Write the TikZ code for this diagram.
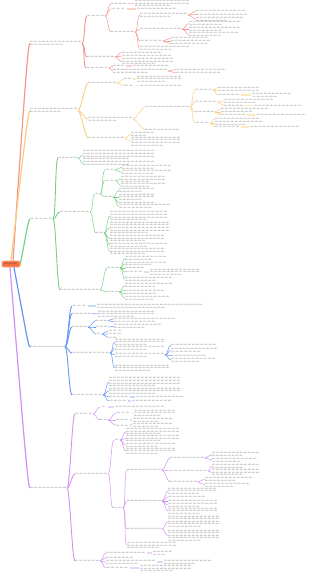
\documentclass[tikz,border=0pt]{standalone}
\usepackage{fontspec}
\setmainfont{Liberation Sans}
\usetikzlibrary{calc}
\definecolor{Rc}{RGB}{246,150,140}\definecolor{Rh}{RGB}{252,210,205}
\definecolor{Oc}{RGB}{250,205,130}\definecolor{Oh}{RGB}{253,232,190}
\definecolor{Gc}{RGB}{118,210,132}\definecolor{Gh}{RGB}{205,240,210}
\definecolor{Bc}{RGB}{100,150,245}\definecolor{Bh}{RGB}{200,218,252}
\definecolor{Pc}{RGB}{210,145,245}\definecolor{Ph}{RGB}{236,210,252}
\definecolor{rootfill}{RGB}{246,112,62}\definecolor{rootedge}{RGB}{251,176,140}
\newcommand\fillline[1]{\hbox to #1pt{\xleaders\hbox{abc\kern.5pt}\hfil}}
\tikzset{
  blk/.style={anchor=west,inner sep=0pt,outer sep=0pt},
  tl/.style={anchor=west,inner sep=0pt,outer sep=0pt,font=\fontsize{2.1pt}{2.6pt}\selectfont,text=black!45},
  l1/.style={line width=1.2pt,line cap=round},
  rootbox/.style={fill=rootfill,draw=rootedge,line width=0.8pt,rounded corners=1pt,minimum width=18pt,minimum height=6pt,inner sep=0pt,font=\fontsize{2.2pt}{2.6pt}\selectfont,text=black!70}
}
\newcommand\tb[5]{%
  \node[blk,minimum width=#4pt,minimum height=#5*2.6pt] (#1) at (#2,#3) {};
  \foreach \li in {1,...,#5}{%
    \pgfmathsetmacro\lw{(\li==#5 && #5>1) ? 0.65*#4 : #4}%
    \node[tl] at ($(#1.north west)+(0,{(\li-0.5)*2.6})$) {\fillline{\lw}};
  }}
\newcommand\br[4][0.5]{\foreach \chn in {#4}{\draw[line width=#1pt,#2] (#3.east) .. controls +(3,0) and +(-3,0) .. (\chn.west);}}
\newcommand\hl[3]{\draw[line width=1.8pt,#1] ($(#2.east)+(1,0)$) -- ($(#2.east -| #3.west)+(-1,0)$);}
\begin{document}
\begin{tikzpicture}[x=1pt,y=-1pt]
\useasboundingbox[fill=white] (0,0) rectangle (310,573);
\node[rootbox] (root) at (11,264) {\fillline{13}};
% ---------------- RED
\tb{R1}{30}{43.5}{52}{2}
\tb{R1a}{87}{16}{18}{1}
\tb{R1b}{87}{57}{28}{1}
\tb{R1c}{86}{68}{23}{1}
\tb{R1a1}{111}{3.5}{16}{1}
\tb{R1a2}{111}{8.8}{15}{1}
\tb{R1a3}{111}{32}{24}{1}
\tb{R1a1x}{135}{3.5}{55}{3}
\tb{R1a2x}{137}{8.8}{40}{1}
\tb{R1a3a}{140}{15}{48}{2}
\tb{R1a3b}{140}{29}{42}{1}
\tb{R1a3c}{140}{41}{23}{1}
\tb{R1a3d}{140}{48.5}{50}{2}
\tb{R1a3a1}{196}{11}{50}{1}
\tb{R1a3a2}{196}{14.5}{52}{1}
\tb{R1a3a3}{196}{19}{48}{2}
\tb{R1a3b1}{189}{23.5}{52}{2}
\tb{R1a3b2}{189}{29}{52}{2}
\tb{R1a3b3}{189}{34.5}{50}{2}
\tb{R1a3c1}{171}{38}{38}{1}
\tb{R1a3c2}{171}{41}{40}{1}
\tb{R1a3c3}{171}{44}{38}{1}
\tb{R1b1}{122}{52.5}{40}{1}
\tb{R1b2}{122}{56}{50}{1}
\tb{R1b3}{122}{61.5}{52}{3}
\tb{R1c1}{113}{66}{12}{1}
\tb{R1c1x}{133}{66}{36}{1}
\tb{R1c2}{113}{71}{55}{2}
\tb{R1c2a}{176}{69.5}{50}{1}
\tb{R1c2b}{176}{73}{45}{1}
\draw[l1,Rc] ([xshift=2pt]root.north) .. controls ($(R1.west)+(-3,10)$) and ($(R1.west)+(-1.5,0)$) .. (R1.west);
\br[0.9]{Rc}{R1}{R1a,R1b,R1c}
\br{Rc}{R1a}{R1a1,R1a2,R1a3}
\br{Rc}{R1a3}{R1a3a,R1a3b,R1a3c,R1a3d}
\br{Rc}{R1a3a}{R1a3a1,R1a3a2,R1a3a3}
\br{Rc}{R1a3b}{R1a3b1,R1a3b2,R1a3b3}
\br{Rc}{R1a3c}{R1a3c1,R1a3c2,R1a3c3}
\br{Rc}{R1b}{R1b1,R1b2,R1b3}
\br{Rc}{R1c}{R1c1,R1c2}
\br{Rc}{R1c2}{R1c2a,R1c2b}
\hl{Rh}{R1a1}{R1a1x}
\hl{Rh}{R1a2}{R1a2x}
\hl{Rh}{R1c1}{R1c1x}
% ---------------- ORANGE
\tb{O1}{30}{110.5}{48}{2}
\tb{O1a}{88}{83}{29}{1}
\tb{O1b}{88}{119}{45}{2}
\tb{O1c}{88}{138}{37}{1}
\tb{O1a1}{124}{79}{8}{1}
\tb{O1a1x}{137}{79}{45}{3}
\tb{O1a2}{124}{85.5}{10}{1}
\tb{O1a2x}{140}{85.5}{42}{1}
\tb{O1b1}{145}{107}{45}{1}
\tb{O1b2}{145}{130}{35}{1}
\tb{O1b1a}{195}{90}{18}{1}
\tb{O1b1b}{195}{102}{22}{1}
\tb{O1b1c}{195}{112}{20}{1}
\tb{O1b1d}{195}{123}{15}{1}
\tb{O1b1a1}{218}{87.5}{42}{1}
\tb{O1b1a2}{218}{91}{42}{1}
\tb{O1b1a3}{218}{95}{22}{1}
\tb{O1b1a3x}{252}{95}{40}{2}
\tb{O1b1b1}{224}{101}{50}{2}
\tb{O1b1b2}{224}{105.5}{20}{1}
\tb{O1b1b2x}{254}{105.5}{48}{1}
\tb{O1b1c1}{221}{109}{48}{1}
\tb{O1b1c2}{221}{112}{32}{1}
\tb{O1b1c3}{221}{115}{25}{1}
\tb{O1b1c3x}{256}{115}{50}{1}
\tb{O1b1d1}{215}{119}{45}{1}
\tb{O1b1d2}{215}{123}{48}{2}
\tb{O1b1d3}{215}{127}{25}{1}
\tb{O1b1d3x}{250}{127}{50}{1}
\tb{O1c1}{131}{134}{24}{2}
\tb{O1c2}{131}{141.5}{50}{4}
\draw[l1,Oc] (root.north) .. controls ($(O1.west)+(-3,10)$) and ($(O1.west)+(-1.5,0)$) .. (O1.west);
\br[0.9]{Oc}{O1}{O1a,O1b,O1c}
\br{Oc}{O1a}{O1a1,O1a2}
\br{Oc}{O1b}{O1b1,O1b2}
\br{Oc}{O1b1}{O1b1a,O1b1b,O1b1c,O1b1d}
\br{Oc}{O1b1a}{O1b1a1,O1b1a2,O1b1a3}
\br{Oc}{O1b1b}{O1b1b1,O1b1b2}
\br{Oc}{O1b1c}{O1b1c1,O1b1c2,O1b1c3}
\br{Oc}{O1b1d}{O1b1d1,O1b1d2,O1b1d3}
\br{Oc}{O1c}{O1c1,O1c2}
\hl{Oh}{O1a1}{O1a1x}
\hl{Oh}{O1a2}{O1a2x}
\hl{Oh}{O1b1a3}{O1b1a3x}
\hl{Oh}{O1b1b2}{O1b1b2x}
\hl{Oh}{O1b1c3}{O1b1c3x}
\hl{Oh}{O1b1d3}{O1b1d3x}
% ---------------- GREEN
\tb{G1}{30}{219}{23}{1}
\tb{G1a}{58}{158}{20}{1}
\tb{G1b}{60}{212}{30}{1}
\tb{G1c}{60}{290}{40}{1}
\tb{G1a1}{83}{155}{72}{4}
\tb{G1a2}{83}{163.5}{72}{2}
\tb{G1b1}{95}{194}{5}{1}
\tb{G1b2}{96}{233}{8}{1}
\tb{G1b1a}{105}{170}{10}{1}
\tb{G1b1b}{105}{180.5}{10}{1}
\tb{G1b1c}{105}{197}{8}{1}
\tb{G1b1a1}{122}{167}{50}{2}
\tb{G1b1a2}{122}{172.5}{50}{2}
\tb{G1b1b1}{121}{179.5}{45}{3}
\tb{G1b1b2}{121}{185.5}{45}{2}
\tb{G1b1c1}{119}{190.3}{36}{2}
\tb{G1b1c2}{119}{197}{36}{3}
\tb{G1b1c3}{119}{202.5}{36}{1}
\tb{G1b1c4}{119}{206.5}{52}{2}
\tb{G1b2a}{110}{216}{58}{4}
\tb{G1b2b}{110}{227.8}{60}{5}
\tb{G1b2c}{110}{238.5}{55}{3}
\tb{G1b2d}{110}{245}{58}{2}
\tb{G1b2e}{110}{251.5}{55}{3}
\tb{G1c1}{107}{268}{13}{1}
\tb{G1c2}{107}{292}{12}{1}
\tb{G1c1a}{125}{258.5}{42}{2}
\tb{G1c1b}{125}{263.8}{42}{2}
\tb{G1c1c}{125}{268}{20}{1}
\tb{G1c1d}{125}{272}{18}{1}
\tb{G1c1dx}{150}{272}{50}{3}
\tb{G1c1e}{125}{279}{48}{2}
\tb{G1c2a}{125}{285.5}{48}{2}
\tb{G1c2b}{125}{290.5}{40}{1}
\tb{G1c2c}{125}{294}{32}{1}
\tb{G1c2d}{125}{298.5}{45}{2}
\draw[l1,Gc] (root.east) .. controls ($(G1.west)+(-3,10)$) and ($(G1.west)+(-1.5,0)$) .. (G1.west);
\br[0.9]{Gc}{G1}{G1a,G1b,G1c}
\br{Gc}{G1a}{G1a1,G1a2}
\br{Gc}{G1b}{G1b1,G1b2}
\br{Gc}{G1b1}{G1b1a,G1b1b,G1b1c}
\br{Gc}{G1b1a}{G1b1a1,G1b1a2}
\br{Gc}{G1b1b}{G1b1b1,G1b1b2}
\br{Gc}{G1b1c}{G1b1c1,G1b1c2,G1b1c3,G1b1c4}
\br{Gc}{G1b2}{G1b2a,G1b2b,G1b2c,G1b2d,G1b2e}
\br{Gc}{G1c}{G1c1,G1c2}
\br{Gc}{G1c1}{G1c1a,G1c1b,G1c1c,G1c1d,G1c1e}
\br{Gc}{G1c2}{G1c2a,G1c2b,G1c2c,G1c2d}
\hl{Gh}{G1c1d}{G1c1dx}
% ---------------- BLUE
\tb{B1}{30}{347}{35}{1}
\tb{B1a}{72}{306}{15}{1}
\tb{B1ax}{97}{306.5}{106}{2}
\tb{B1b}{72}{313.5}{20}{1}
\tb{B1bx}{98}{314}{57}{3}
\tb{B1c}{72}{327}{16}{1}
\tb{B1d}{72}{353}{38}{1}
\tb{B1e}{72}{395}{31}{1}
\tb{B1c1}{96}{320.5}{12}{1}
\tb{B1c2}{96}{327}{12}{1}
\tb{B1c3}{96}{334}{6}{1}
\tb{B1c1a}{114}{318.8}{62}{1}
\tb{B1c1b}{114}{322}{42}{1}
\tb{B1c2a}{114}{326.5}{48}{2}
\tb{B1c3a}{108}{331}{15}{1}
\tb{B1c3b}{108}{334.2}{14}{1}
\tb{B1c3c}{108}{337.4}{10}{1}
\tb{B1da}{115}{342}{50}{3}
\tb{B1db}{115}{348.5}{50}{2}
\tb{B1dc}{115}{355}{50}{2}
\tb{B1dd}{115}{368}{55}{3}
\tb{B1dc1}{171}{345}{46}{1}
\tb{B1dc2}{171}{350.5}{47}{2}
\tb{B1dc3}{171}{355.5}{35}{1}
\tb{B1dc4}{171}{360}{45}{2}
\tb{B1ea}{109}{382}{72}{4}
\tb{B1eb}{109}{391}{72}{3}
\tb{B1ec}{109}{397}{20}{1}
\tb{B1ecx}{136}{397}{48}{1}
\tb{B1ed}{109}{401}{18}{1}
\tb{B1edx}{132}{401}{40}{1}
\draw[l1,Bc] ([xshift=3pt]root.south) .. controls ($(B1.west)+(-3,-10)$) and ($(B1.west)+(-1.5,0)$) .. (B1.west);
\br[0.9]{Bc}{B1}{B1a,B1b,B1c,B1d,B1e}
\br{Bc}{B1b}{B1bx}
\br{Bc}{B1c}{B1c1,B1c2,B1c3}
\br{Bc}{B1c1}{B1c1a,B1c1b}
\br{Bc}{B1c2}{B1c2a}
\br{Bc}{B1c3}{B1c3a,B1c3b,B1c3c}
\br{Bc}{B1d}{B1da,B1db,B1dc,B1dd}
\br{Bc}{B1dc}{B1dc1,B1dc2,B1dc3,B1dc4}
\br{Bc}{B1e}{B1ea,B1eb,B1ec,B1ed}
\hl{Bh}{B1a}{B1ax}
\hl{Bh}{B1ec}{B1ecx}
\hl{Bh}{B1ed}{B1edx}
% ---------------- PURPLE
\tb{P1}{30}{488}{37}{1}
\tb{P1a}{75}{414}{18}{1}
\tb{P1b}{75}{474}{33}{1}
\tb{P1c}{75}{561}{25}{1}
\tb{P1a1}{100}{407}{7}{1}
\tb{P1a1x}{115}{407}{50}{1}
\tb{P1a2}{100}{420}{8}{1}
\tb{P1a2a}{116}{413}{15}{1}
\tb{P1a2ax}{134}{413}{42}{3}
\tb{P1a2b}{116}{420}{13}{1}
\tb{P1a2bx}{133}{420}{40}{2}
\tb{P1a2c}{116}{425.3}{13}{1}
\tb{P1a2cx}{133}{425.3}{40}{2}
\tb{P1b1}{114}{440}{6}{1}
\tb{P1b1a}{126}{431.5}{54}{3}
\tb{P1b1b}{126}{438.5}{54}{3}
\tb{P1b1c}{126}{445}{50}{2}
\tb{P1b1d}{126}{451}{50}{3}
\tb{P1b2}{113}{508}{10}{1}
\tb{P1b2a}{127}{470}{35}{1}
\tb{P1b2a1}{170}{458}{35}{1}
\tb{P1b2a1a}{212}{454.5}{48}{2}
\tb{P1b2a1b}{212}{460}{45}{2}
\tb{P1b2a2}{170}{471}{38}{1}
\tb{P1b2a2a}{212}{466.5}{48}{2}
\tb{P1b2a2b}{212}{472.5}{48}{3}
\tb{P1b2a3}{170}{482}{28}{1}
\tb{P1b2a3a}{205}{479}{48}{2}
\tb{P1b2a3b}{205}{485}{45}{2}
\tb{P1b2b}{127}{501}{35}{1}
\tb{P1b2b1}{168}{491}{49}{3}
\tb{P1b2b2}{168}{497}{38}{1}
\tb{P1b2b3}{168}{501}{50}{1}
\tb{P1b2b4}{168}{505}{50}{2}
\tb{P1b2b5}{168}{511}{50}{3}
\tb{P1b2c}{127}{529}{35}{1}
\tb{P1b2c1}{168}{521.5}{52}{5}
\tb{P1b2c2}{168}{535.5}{52}{5}
\tb{P1b2d}{127}{545.5}{50}{3}
\tb{P1c1}{106}{553}{40}{1}
\tb{P1c1x}{153}{553.5}{20}{2}
\tb{P1c2}{106}{557.5}{28}{1}
\tb{P1c3}{106}{562}{50}{2}
\tb{P1c3x}{164}{562}{48}{2}
\tb{P1c4}{106}{568}{23}{1}
\tb{P1c4x}{140}{568.5}{52}{3}
\draw[l1,Pc] ([xshift=-1pt]root.south) .. controls ($(P1.west)+(-3,-10)$) and ($(P1.west)+(-1.5,0)$) .. (P1.west);
\br[0.9]{Pc}{P1}{P1a,P1b,P1c}
\br{Pc}{P1a}{P1a1,P1a2}
\br{Pc}{P1a2}{P1a2a,P1a2b,P1a2c}
\br{Pc}{P1b}{P1b1,P1b2}
\br{Pc}{P1b1}{P1b1a,P1b1b,P1b1c,P1b1d}
\br{Pc}{P1b2}{P1b2a,P1b2b,P1b2c,P1b2d}
\br{Pc}{P1b2a}{P1b2a1,P1b2a2,P1b2a3}
\br{Pc}{P1b2a1}{P1b2a1a,P1b2a1b}
\br{Pc}{P1b2a2}{P1b2a2a,P1b2a2b}
\br{Pc}{P1b2a3}{P1b2a3a,P1b2a3b}
\br{Pc}{P1b2b}{P1b2b1,P1b2b2,P1b2b3,P1b2b4,P1b2b5}
\br{Pc}{P1b2c}{P1b2c1,P1b2c2}
\br{Pc}{P1c}{P1c1,P1c2,P1c3,P1c4}
\hl{Ph}{P1a1}{P1a1x}
\hl{Ph}{P1a2a}{P1a2ax}
\hl{Ph}{P1a2b}{P1a2bx}
\hl{Ph}{P1a2c}{P1a2cx}
\hl{Ph}{P1c1}{P1c1x}
\hl{Ph}{P1c3}{P1c3x}
\hl{Ph}{P1c4}{P1c4x}
\end{tikzpicture}
\end{document}
